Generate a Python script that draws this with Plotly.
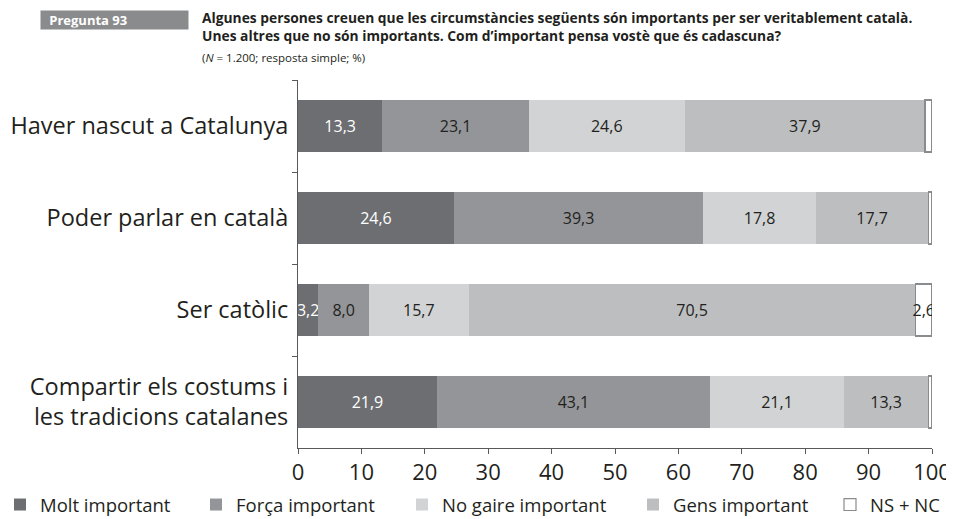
import plotly.graph_objects as go

categories = ["Haver nascut a Catalunya", "Poder parlar en català", "Ser catòlic",
              "Compartir els costums i<br>les tradicions catalanes"]
series_names = ["Molt important", "Força important", "No gaire important", "Gens important", "NS + NC"]
molt = [13.3, 24.6, 3.2, 21.9]
forca = [23.1, 39.3, 8.0, 43.1]
no_gaire = [24.6, 17.8, 15.7, 21.1]
gens = [37.9, 17.7, 70.5, 13.3]
nsnc = [1.1, 0.6, 2.6, 0.6]
nsnc_labels = ["", "", "2,6", ""]
x_ticks = [0, 10, 20, 30, 40, 50, 60, 70, 80, 90, 100]

colors = ["#6d6e71", "#939598", "#d1d3d4", "#bcbec0", "#ffffff"]
text_colors = ["#ffffff", "#231f20", "#231f20", "#231f20", "#231f20"]
FONT = "Open Sans"

# The page adds an 8px body margin, so the figure is drawn 8px smaller
# and all page coordinates are shifted by OFF.
OFF = 8
W, H = 954 - OFF, 519 - OFF
PLOT_L, PLOT_R, PLOT_T, PLOT_B = 298, 932, 80, 448  # page pixels
ML, MR = PLOT_L - OFF, W - (PLOT_R - OFF)
MT, MB = PLOT_T - OFF, H - (PLOT_B - OFF)
PW, PH = W - ML - MR, H - MT - MB


def px(x):
    return (x - OFF - ML) / PW


def py(y):
    return (H - MB - (y - OFF)) / PH


def fmt(v):
    return f"{v:.1f}".replace(".", ",")


fig = go.Figure()
all_vals = [molt, forca, no_gaire, gens, nsnc]
legend_x = [0, 196, 402, 633, 830]
for i, (name, vals) in enumerate(zip(series_names, all_vals)):
    texts = [fmt(v) for v in vals] if i < 4 else nsnc_labels
    lid = "legend" if i == 0 else f"legend{i+1}"
    fig.add_trace(go.Bar(
        name=name, y=categories, x=vals, orientation="h",
        marker=dict(color=colors[i],
                    line=dict(color="#8a8b8d" if i == 4 else colors[i], width=1.2 if i == 4 else 0)),
        text=texts, textposition="inside", insidetextanchor="middle",
        constraintext="none", textangle=0,
        textfont=dict(family=FONT, size=16, color=text_colors[i]),
        hoverinfo="skip", legend=lid, showlegend=True,
    ))

layout_legends = {}
for i in range(5):
    lid = "legend" if i == 0 else f"legend{i+1}"
    layout_legends[lid] = dict(
        x=px(legend_x[i]), y=py(505), xanchor="left", yanchor="middle",
        orientation="h", font=dict(family=FONT, size=18.5, color="#231f20"),
        bgcolor="rgba(0,0,0,0)", itemwidth=30, borderwidth=0,
    )

fig.update_layout(
    width=W, height=H, barmode="stack", bargap=0.435,
    margin=dict(l=ML, r=MR, t=MT, b=MB, autoexpand=False),
    plot_bgcolor="white", paper_bgcolor="white",
    font=dict(family=FONT, color="#231f20"),
    **layout_legends,
)
fig.update_xaxes(range=[0, 100], tickvals=x_ticks, ticktext=[str(t) for t in x_ticks],
                 showgrid=False, zeroline=False, showline=True, linecolor="#58595b", linewidth=1,
                 ticks="outside", ticklen=5, tickcolor="#58595b", automargin=False,
                 tickfont=dict(family=FONT, size=22, color="#231f20"))
fig.update_yaxes(categoryorder="array", categoryarray=categories, autorange="reversed",
                 showgrid=False, zeroline=False, showline=True, linecolor="#58595b", linewidth=1,
                 ticks="outside", ticklen=5, tickcolor="#58595b", tickson="boundaries",
                 automargin=False, ticklabelstandoff=4,
                 tickfont=dict(family=FONT, size=23.5, color="#231f20"))

# Header
fig.add_annotation(text="&nbsp;&nbsp;<b>Pregunta 93</b>", xref="paper", yref="paper",
                   x=px(40), y=py(20), xanchor="left", yanchor="middle",
                   showarrow=False, bgcolor="#8a8b8d", width=144, height=15, align="left",
                   borderpad=1.5, font=dict(family=FONT, size=13, color="white"))
fig.add_annotation(text="<b>Algunes persones creuen que les circumstàncies següents són importants per ser veritablement català.<br>"
                        "Unes altres que no són importants. Com d’important pensa vostè que és cadascuna?</b>",
                   xref="paper", yref="paper", x=px(200), y=py(6), xanchor="left", yanchor="top",
                   showarrow=False, align="left",
                   font=dict(family=FONT, size=13.8, color="#231f20"))
fig.add_annotation(text="(<i>N</i> = 1.200; resposta simple; %)",
                   xref="paper", yref="paper", x=px(200), y=py(57), xanchor="left", yanchor="middle",
                   showarrow=False, align="left",
                   font=dict(family=FONT, size=11.5, color="#231f20"))

fig.write_html("out.html")
